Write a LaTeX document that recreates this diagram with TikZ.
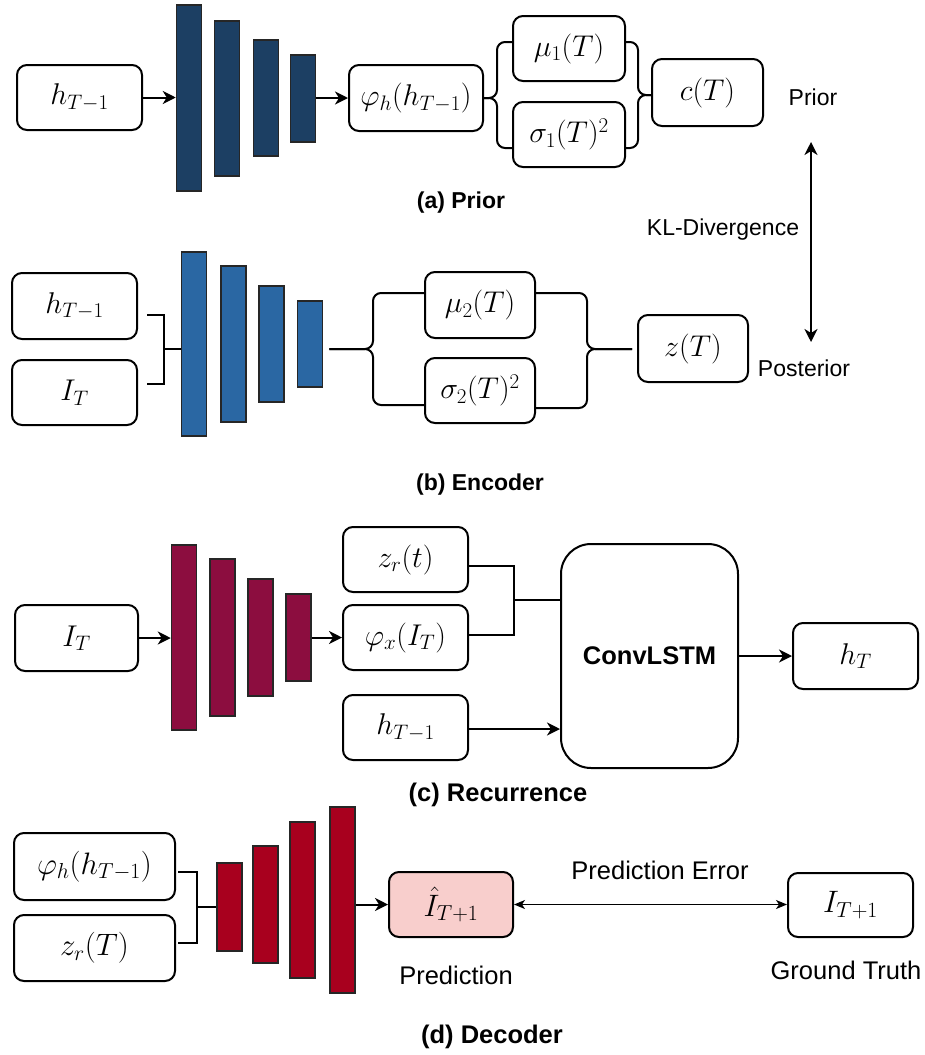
\IfFileExists{fix-cm.sty}{\RequirePackage{fix-cm}}{}
\documentclass[tikz,border=0pt]{standalone}
\usepackage{fontspec}
\newfontfamily\lab{Liberation Sans}
\usetikzlibrary{arrows.meta}
\definecolor{priorc}{HTML}{1C3F63}
\definecolor{encc}{HTML}{2A67A3}
\definecolor{recc}{HTML}{8C0D3F}
\definecolor{decc}{HTML}{A8001E}
\definecolor{predfill}{HTML}{F8CECC}
\tikzset{
  box/.style={draw=black, line width=2pt, rounded corners=10pt, inner sep=0pt, fill=white,
    font=\fontsize{30}{34}\selectfont},
  boxd/.style={box, font=\fontsize{31}{35}\selectfont},
  bar/.style={draw=black!85, line width=1.5pt, inner sep=0pt, minimum width=25pt},
  wire/.style={line width=2pt, rounded corners=8pt},
  plain/.style={line width=2pt},
  arr/.style={line width=2pt, -{Stealth[length=13pt,width=13pt,inset=4pt]}},
  txt/.style={font=\lab\fontsize{23}{27}\selectfont, inner sep=0pt},
  txtb/.style={font=\lab\bfseries\fontsize{23}{27}\selectfont, inner sep=0pt},
  txtl/.style={font=\lab\fontsize{25.5}{30}\selectfont, inner sep=0pt},
  txtlb/.style={font=\lab\bfseries\fontsize{25.5}{30}\selectfont, inner sep=0pt},
}
\begin{document}
\begin{tikzpicture}[x=1pt,y=-1pt]
\fill[white] (0,0) rectangle (925,1055);
\useasboundingbox (0,0) rectangle (925,1055);

% ---------------- (a) Prior ----------------
\node[box, minimum width=125pt, minimum height=65pt] (hA) at (79.5,97.5) {$h_{T-1}$};
\node[bar, fill=priorc, minimum height=186pt] (pa1) at (189,98) {};
\node[bar, fill=priorc, minimum height=155pt] (pa2) at (227,98.5) {};
\node[bar, fill=priorc, minimum height=116pt] (pa3) at (266,98) {};
\node[bar, fill=priorc, minimum height=87pt] (pa4) at (303,98.5) {};
\node[box, minimum width=134pt, minimum height=66pt] (phiA) at (416,98) {$\varphi_h(h_{T-1})$};
\node[box, minimum width=112pt, minimum height=65pt] (mu1) at (569,48.5) {$\mu_1(T)$};
\node[box, minimum width=112pt, minimum height=65pt] (sig1) at (569,134.5) {$\sigma_1(T)^2$};
\node[box, minimum width=111pt, minimum height=67pt] (cT) at (707.5,92.5) {$c(T)$};
\node[txt] (prior) at (813,97) {Prior};
\node[txtb] (capA) at (461,203) {(a) Prior};

\draw[arr] (hA.east) -- (hA.east -| pa1.west);
\draw[arr] (pa4.east |- phiA.west) -- (phiA.west);
\draw[wire] (phiA.east) -| (497,42) -- (mu1.west |- 0,42);
\draw[wire] (phiA.east) -| (497,148) -- (sig1.west |- 0,148);
\draw[wire] (mu1.east |- 0,42) -| (638,95) -- (cT.west |- 0,95);
\draw[wire] (sig1.east |- 0,148) -| (638,95) -- (cT.west |- 0,95);

% KL divergence
\node[txt] (kl) at (723,230) {KL-Divergence};
\node[txt] (post) at (804,368) {Posterior};
\coordinate (klt) at (811,142);
\coordinate (klb) at (811,342);
\draw[line width=2pt, {Stealth[length=13pt,width=13pt,inset=4pt]}-{Stealth[length=13pt,width=13pt,inset=4pt]}] (klt) -- (klb);

% ---------------- (b) Encoder ----------------
\node[box, minimum width=125pt, minimum height=66pt] (hB) at (74.5,306) {$h_{T-1}$};
\node[box, minimum width=125pt, minimum height=65pt] (IB) at (74.5,392.5) {$I_T$};
\node[bar, fill=encc, minimum height=184pt] (pb1) at (194,344) {};
\node[bar, fill=encc, minimum height=156pt] (pb2) at (233.5,344) {};
\node[bar, fill=encc, minimum height=116pt] (pb3) at (271.5,344) {};
\node[bar, fill=encc, minimum height=86pt] (pb4) at (310,344) {};
\node[box, minimum width=110pt, minimum height=66pt] (mu2) at (480,305) {$\mu_2(T)$};
\node[box, minimum width=110pt, minimum height=65pt] (sig2) at (480,390.5) {$\sigma_2(T)^2$};
\node[box, minimum width=110pt, minimum height=67pt] (zB) at (693,348.5) {$z(T)$};
\node[txtb] (capB) at (480,485) {(b) Encoder};

\draw[plain, shorten <=9pt, shorten >=9pt] (hB.east |- 0,315) -| (164,384) -- (IB.east |- 0,384);
\draw[plain] (164,349) -- (pb1.west |- 0,349);
\draw[wire, shorten <=6pt] (pb4.east |- 0,349) -| (373,293) -- (mu2.west |- 0,293);
\draw[wire, shorten <=6pt] (pb4.east |- 0,349) -| (373,405) -- (sig2.west |- 0,405);
\draw[wire, shorten >=5pt] (mu2.east |- 0,293) -| (587,349) -- (zB.west |- 0,349);
\draw[wire, shorten >=5pt] (sig2.east |- 0,408) -| (587,349) -- (zB.west |- 0,349);

% ---------------- (c) Recurrence ----------------
\node[box, minimum width=123pt, minimum height=66pt] (IC) at (76.5,638) {$I_T$};
\node[bar, fill=recc, minimum height=185pt] (pc1) at (184,637.5) {};
\node[bar, fill=recc, minimum height=157pt] (pc2) at (222.5,637.5) {};
\node[bar, fill=recc, minimum height=117pt] (pc3) at (260.5,637.5) {};
\node[bar, fill=recc, minimum height=87pt] (pc4) at (298.5,637.5) {};
\node[box, minimum width=125pt, minimum height=65pt] (zr) at (405.5,559.5) {$z_r(t)$};
\node[box, minimum width=125pt, minimum height=65pt] (phiC) at (405.5,637.5) {$\varphi_x(I_T)$};
\node[box, minimum width=125pt, minimum height=65pt] (hC) at (405.5,727.5) {$h_{T-1}$};
\node[draw=black, line width=2pt, rounded corners=30pt, inner sep=0pt, minimum width=177pt, minimum height=224pt, font=\lab\bfseries\fontsize{25.5}{30}\selectfont] (conv) at (649.5,656) {ConvLSTM};
\node[box, minimum width=125pt, minimum height=66pt] (hT) at (855.5,656) {$h_T$};
\node[txtlb] (capC) at (498,795) {(c) Recurrence};

\draw[arr] (IC.east) -- (IC.east -| pc1.west);
\draw[arr] (pc4.east |- phiC.west) -- (phiC.west);
\draw[plain] (zr.east |- 0,566) -| (514,635) -- (phiC.east |- 0,635);
\draw[plain] (514,600) -- (conv.west |- 0,600);
\draw[arr] (hC.east |- 0,729) -- (conv.west |- 0,729);
\draw[arr] (conv.east |- hT.west) -- (hT.west);

% ---------------- (d) Decoder ----------------
\node[boxd, minimum width=161pt, minimum height=67pt] (phiD) at (94.5,866.5) {$\varphi_h(h_{T-1})$};
\node[boxd, minimum width=161pt, minimum height=66pt] (zrD) at (94.5,948) {$z_r(T)$};
\node[bar, fill=decc, minimum height=88pt] (pd1) at (229.5,907) {};
\node[bar, fill=decc, minimum height=117pt] (pd2) at (265.5,904.5) {};
\node[bar, fill=decc, minimum height=156pt] (pd3) at (302.5,900) {};
\node[bar, fill=decc, minimum height=186pt] (pd4) at (342.5,900) {};
\node[boxd, fill=predfill, minimum width=124pt, minimum height=65pt] (pred) at (451,904.5) {$\hat{I}_{T+1}$};
\node[boxd, minimum width=125pt, minimum height=64pt] (gt) at (850.5,905) {$I_{T+1}$};
\node[txtl] (perr) at (660,870) {Prediction Error};
\node[txtl] (predl) at (456,975) {Prediction};
\node[txtl] (gtl) at (846,970) {Ground Truth};
\node[txtlb] (capD) at (492,1037) {(d) Decoder};

\draw[plain, shorten <=2pt, shorten >=2pt] (phiD.east |- 0,872) -| (197,943) -- (zrD.east |- 0,943);
\draw[plain] (197,907) -- (pd1.west |- 0,907);
\draw[arr] (pd4.east |- pred.west) -- (pred.west);
\draw[line width=1.3pt, {Stealth[length=11pt,width=9pt,inset=3pt]}-{Stealth[length=11pt,width=9pt,inset=3pt]}] (pred.east) -- (pred.east -| gt.west);
\end{tikzpicture}
\end{document}
